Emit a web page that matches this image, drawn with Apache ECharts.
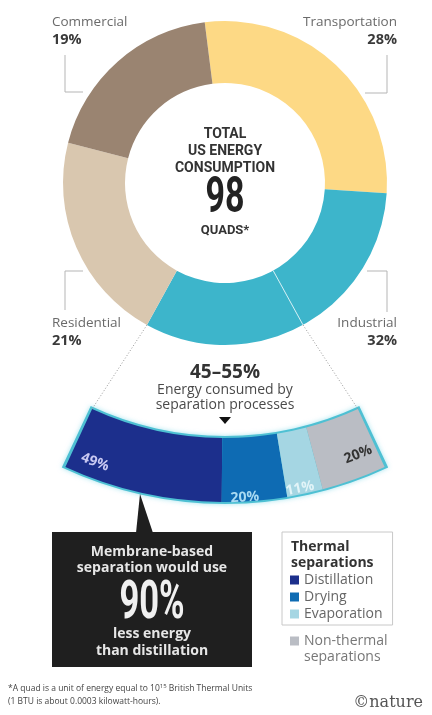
<!DOCTYPE html>
<html>
<head>
<meta charset="utf-8">
<script src="https://cdn.jsdelivr.net/npm/echarts@6/dist/echarts.min.js"></script>
<style>
html,body{margin:0;padding:0;background:#fff;}
#chart{width:432px;height:715px;}
</style>
</head>
<body>
<div id="chart"></div>
<script>
// ---------------- DATA ----------------
const sectors = ['Transportation', 'Industrial', 'Residential', 'Commercial'];
const sectorShares = [28, 32, 21, 19];
const totalQuads = 98;
const centerTitle = ['TOTAL', 'US ENERGY', 'CONSUMPTION'];
const unitLabel = 'QUADS*';
const separationRange = '45–55%';
const separationNote = ['Energy consumed by', 'separation processes'];
const separations = ['Distillation', 'Drying', 'Evaporation', 'Non-thermal separations'];
const separationShares = [49, 20, 11, 20];
const membraneSaving = 90;
const boxLines = ['Membrane-based', 'separation would use', 'less energy', 'than distillation'];
const legendTitle = ['Thermal', 'separations'];
const footnote = ['*A quad is a unit of energy equal to 10', '15', ' British Thermal Units', '(1 BTU is about 0.0003 kilowatt-hours).'];
const credit = '©nature';

// ---------------- STYLE / LAYOUT ----------------
const FONT = '"Open Sans", "DejaVu Sans", sans-serif';
const sectorColors = {Transportation:'#fdd985', Industrial:'#3db5cb', Residential:'#d9c7af', Commercial:'#9a8471'};
const sepColors = ['#1c2f8c', '#0e6bb3', '#a5d6e3', '#babdc4'];
const C = [225, 183], R_IN = 100, R_OUT = 162, START = 97.2; // donut
const B = [225, 120], B_IN = 318, B_OUT = 382, HALF = 24.7;  // separation band

const chart = echarts.init(document.getElementById('chart'), null, {renderer:'canvas'});

function txt(text, x, y, o) {
  o = o || {};
  return {type:'text', z: o.z || 10, x:x, y:y, rotation:o.rotation||0, scaleX:o.scaleX||1, silent:true,
    style:{text:text, x:0, y:0, fill:o.color||'#333', fontSize:o.size||13, fontWeight:o.weight||'normal',
      fontFamily:o.family||FONT, align:o.align||'left', textAlign:o.align||'left',
      verticalAlign:'middle', textVerticalAlign:'middle', rich:o.rich, lineHeight:o.lineHeight}};
}
function polar(c, r, degFromTopCW) {
  const a = degFromTopCW * Math.PI / 180;
  return [c[0] + r * Math.sin(a), c[1] - r * Math.cos(a)];
}

const graphics = [];
// Sector labels with leader lines
const labelSpots = {
  Commercial:    {x:52,  y:22,  align:'left',  line:[[83,92],[65,92],[65,55]]},
  Transportation:{x:397, y:22,  align:'right', line:[[365,93],[387,93],[387,55]]},
  Residential:   {x:52,  y:323, align:'left',  line:[[83,271],[65,271],[65,310]]},
  Industrial:    {x:397, y:323, align:'right', line:[[367,271],[387,271],[387,312]]}
};
sectors.forEach((s, i) => {
  const p = labelSpots[s];
  graphics.push(txt(s, p.x, p.y, {align:p.align, color:'#6a6a6a', size:13.5}));
  graphics.push(txt(sectorShares[i] + '%', p.x, p.y + 18, {align:p.align, color:'#3a3a3a', size:14.5, weight:'bold'}));
  graphics.push({type:'polyline', silent:true, shape:{points:p.line}, style:{stroke:'#b5b5b5', lineWidth:1, fill:null}});
});

// Center text
centerTitle.forEach((t, i) => graphics.push(txt(t, C[0], 134 + i * 17, {align:'center', size:14, weight:'bold', color:'#333', family:'Roboto, sans-serif'})));
graphics.push(txt(String(totalQuads), C[0], 199, {align:'center', size:50, weight:'bold', color:'#222', family:'Roboto, sans-serif', scaleX:0.68}));
graphics.push(txt(unitLabel, C[0], 231, {align:'center', size:13, weight:'bold', color:'#333', family:'Roboto, sans-serif'}));

// Fan lines from the industrial portion down to the band
const total = sectorShares.reduce((a, b) => a + b, 0);
const startTop = 90 - START; // degrees from top, clockwise
const indStart = startTop + sectorShares[0] / total * 360;
const indEnd = indStart + sectorShares[1] / total * 360;
const indMid = (indStart + indEnd) / 2;
const pIn = polar(C, R_IN, indMid), pOut = polar(C, R_OUT, indMid), pLeft = polar(C, R_OUT, indEnd);
const bandRightTop = polar(B, B_IN, 180 - HALF), bandLeftTop = polar(B, B_IN, 180 + HALF);
graphics.push({type:'line', z:5, silent:true, shape:{x1:pIn[0], y1:pIn[1], x2:pOut[0], y2:pOut[1]}, style:{stroke:'rgba(255,255,255,0.8)', lineWidth:1}});
graphics.push({type:'line', z:5, silent:true, shape:{x1:pOut[0], y1:pOut[1], x2:bandRightTop[0], y2:bandRightTop[1]}, style:{stroke:'#999', lineWidth:1, lineDash:[1,2]}});
graphics.push({type:'line', z:5, silent:true, shape:{x1:pLeft[0], y1:pLeft[1], x2:bandLeftTop[0], y2:bandLeftTop[1]}, style:{stroke:'#999', lineWidth:1, lineDash:[1,2]}});

// Separation text + arrow
graphics.push(txt(separationRange, 225, 373, {align:'center', size:19, weight:'bold', color:'#333'}));
separationNote.forEach((t, i) => graphics.push(txt(t, 225, 390 + i * 15.5, {align:'center', size:14, color:'#4a4a4a'})));
graphics.push({type:'polygon', silent:true, shape:{points:[[219,417],[231,417],[225,424]]}, style:{fill:'#111'}});

// Band labels
const bandLabelSpots = [[-20.8, 366, '#c9c9f2'], [3, 378, '#a9daf2'], [11.5, 376, '#e2f4f8'], [21.7, 360, '#333']];
separationShares.forEach((v, i) => {
  const s = bandLabelSpots[i];
  const p = polar(B, s[1], 180 - s[0]);
  graphics.push(txt(v + '%', p[0], p[1], {align:'center', size:14, weight:'bold', color:s[2], rotation:s[0] * Math.PI / 180, z:20}));
});

// Black callout box
graphics.push({type:'polygon', z:3, silent:true, shape:{points:[[140,494],[136,533],[153,533]]}, style:{fill:'#1f1f1f'}});
graphics.push({type:'rect', z:3, silent:true, shape:{x:52, y:532, width:200, height:135}, style:{fill:'#1f1f1f'}});
graphics.push(txt(boxLines[0], 152, 552, {align:'center', size:14, weight:'bold', color:'#e6e6e6'}));
graphics.push(txt(boxLines[1], 152, 568, {align:'center', size:14, weight:'bold', color:'#e6e6e6'}));
graphics.push(txt(membraneSaving + '%', 152, 604, {align:'center', size:54, weight:'bold', color:'#f0f0f0', family:'Roboto, sans-serif', scaleX:0.64}));
graphics.push(txt(boxLines[2], 152, 634, {align:'center', size:14, weight:'bold', color:'#e6e6e6'}));
graphics.push(txt(boxLines[3], 152, 651, {align:'center', size:14, weight:'bold', color:'#e6e6e6'}));

// Legend title
graphics.push(txt(legendTitle.join('\n'), 291, 555, {size:14, weight:'bold', color:'#333', lineHeight:16}));
// Second line of the non-thermal legend entry
const nonThermalWords = separations[3].split(' ');
graphics.push(txt(nonThermalWords.slice(1).join(' '), 304, 657, {size:14, color:'#777'}));

// Footnote + credit
graphics.push(txt('{a|' + footnote[0] + '}{s|' + footnote[1] + '}{a|' + footnote[2] + '}', 8, 689,
  {size:8.5, color:'#444', rich:{a:{fontSize:8.5, fontFamily:FONT, fill:'#444', color:'#444'}, s:{fontSize:6, fontFamily:FONT, color:'#444', fill:'#444', verticalAlign:'top', padding:[0,0,5,0]}}}));
graphics.push(txt(footnote[3], 8, 702, {size:8.5, color:'#444'}));
graphics.push(txt(credit, 423, 703, {align:'right', size:16, color:'#555', family:'"DejaVu Serif", serif'}));

const option = {
  backgroundColor:'#fff',
  animation:false,
  legend:[
    {left:282, top:532, orient:'vertical', data:separations.slice(0, 3), icon:'rect', itemWidth:9, itemHeight:9,
     itemGap:3, padding:[41, 10, 4, 8], borderColor:'#c8c8c8', borderWidth:1, selectedMode:false,
     textStyle:{fontSize:14, color:'#666', fontFamily:FONT}},
    {left:282, top:634, orient:'vertical', data:separations.slice(3), icon:'rect', itemWidth:9, itemHeight:9,
     padding:[0, 8, 0, 8], selectedMode:false, formatter:n => n.split(' ')[0],
     textStyle:{fontSize:14, color:'#777', fontFamily:FONT}}
  ],
  series:[
    {type:'pie', center:C, radius:[R_IN, R_OUT], startAngle:START, clockwise:true, silent:true,
     label:{show:false}, labelLine:{show:false}, emphasis:{disabled:true}, z:2,
     data:sectors.map((s, i) => ({name:s, value:sectorShares[i], itemStyle:{color:sectorColors[s]}}))},
    {type:'pie', center:B, radius:[B_IN - 2, B_OUT + 2], startAngle:270 - HALF - 0.45, endAngle:270 + HALF + 0.45,
     clockwise:false, silent:true, label:{show:false}, emphasis:{disabled:true}, z:2,
     itemStyle:{color:'#4ec0d3', shadowBlur:5, shadowColor:'rgba(110,210,228,0.6)'},
     data:[{name:'band', value:1}]},
    {type:'pie', center:B, radius:[B_IN, B_OUT], startAngle:270 - HALF, endAngle:270 + HALF,
     clockwise:false, silent:true, label:{show:false}, emphasis:{disabled:true}, z:3,
     data:separations.map((s, i) => ({name:s, value:separationShares[i], itemStyle:{color:sepColors[i]}}))}
  ],
  graphic:{elements:graphics}
};
chart.setOption(option);
</script>
</body>
</html>
